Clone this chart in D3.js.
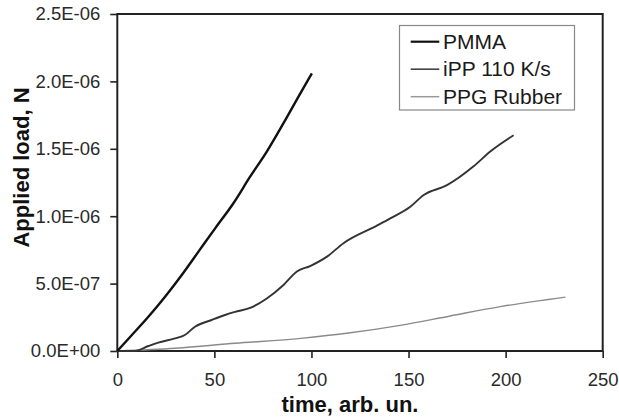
<!DOCTYPE html>
<html>
<head>
<meta charset="utf-8">
<script src="https://cdn.jsdelivr.net/npm/d3@7"></script>
<style>
  html, body { margin: 0; padding: 0; background: #fff; }
  svg { display: block; font-family: "Liberation Sans", Arial, sans-serif; }
</style>
</head>
<body>
<svg id="chart" width="619" height="419"></svg>
<script>
// ---- data (time in arb. units, load in N) ----
const seriesNames = ["PMMA", "iPP 110 K/s", "PPG Rubber"];

const pmmaTime = [0, 7.4, 16, 24.6, 33.2, 41.8, 50.4, 59.8, 68.4, 77, 85.6, 94.2, 100.2];
const pmmaLoad = [0, 0.117e-6, 0.254e-6, 0.403e-6, 0.564e-6, 0.737e-6, 0.91e-6, 1.096e-6, 1.293e-6, 1.479e-6, 1.69e-6, 1.91e-6, 2.06e-6];

const ippTime = [0, 9.1, 16, 21.1, 29.7, 34.8, 40, 48.6, 55.5, 60.6, 68.4, 77, 85.6, 92.5, 99.3, 108, 116.5, 133.7, 140.6, 150.9, 157.8, 169.8, 183.5, 192.1, 204.1];
const ippLoad = [0, 0, 0.037e-6, 0.062e-6, 0.094e-6, 0.119e-6, 0.18e-6, 0.23e-6, 0.267e-6, 0.29e-6, 0.32e-6, 0.39e-6, 0.49e-6, 0.59e-6, 0.63e-6, 0.70e-6, 0.80e-6, 0.93e-6, 0.984e-6, 1.07e-6, 1.157e-6, 1.23e-6, 1.37e-6, 1.48e-6, 1.60e-6];

const rubberTime = [0, 30, 60.7, 94.5, 120, 145.7, 171.5, 197.3, 230.8];
const rubberLoad = [0, 0.02e-6, 0.057e-6, 0.094e-6, 0.135e-6, 0.19e-6, 0.26e-6, 0.329e-6, 0.40e-6];

const xTicks = [0, 50, 100, 150, 200, 250];
const yTicks = [0, 0.5e-6, 1.0e-6, 1.5e-6, 2.0e-6, 2.5e-6];
const yTickLabels = ["0.0E+00", "5.0E-07", "1.0E-06", "1.5E-06", "2.0E-06", "2.5E-06"];

const xTitle = "time, arb. un.";
const yTitle = "Applied load, N";

// ---- layout ----
const L = 117.3, R = 602.7, T = 14, B = 351;
const svg = d3.select("#chart");

const x = d3.scaleLinear().domain([0, 250]).range([L, R]);
const y = d3.scaleLinear().domain([0, 2.5e-6]).range([B, T]);

// axes
const xAxis = svg.append("g")
  .attr("transform", `translate(0,${B})`)
  .call(d3.axisBottom(x).tickValues(xTicks).tickSize(7).tickPadding(15).tickFormat(d3.format("d")));
const yAxis = svg.append("g")
  .attr("transform", `translate(${L},0)`)
  .call(d3.axisLeft(y).tickValues(yTicks).tickSize(7).tickPadding(10)
        .tickFormat((d, i) => yTickLabels[i]));

[xAxis, yAxis].forEach(g => {
  g.select(".domain").remove();
  g.selectAll(".tick line").attr("stroke", "#222").attr("stroke-width", 1.6);
  g.selectAll(".tick text").attr("fill", "#2a2a2a")
    .style("font-size", "18.5px").style("font-family", "'Liberation Sans', Arial, sans-serif");
});

// frame
svg.append("rect")
  .attr("x", L).attr("y", T).attr("width", R - L).attr("height", B - T)
  .attr("fill", "none").attr("stroke", "#222").attr("stroke-width", 2);

// lines
const series = [
  { t: pmmaTime, v: pmmaLoad, color: "#111", w: 2.4 },
  { t: ippTime, v: ippLoad, color: "#333", w: 1.9 },
  { t: rubberTime, v: rubberLoad, color: "#8a8a8a", w: 1.4 }
];
const line = d3.line().x(d => x(d[0])).y(d => y(d[1])).curve(d3.curveMonotoneX);
series.slice().reverse().forEach(s => {
  svg.append("path")
    .datum(s.t.map((t, i) => [t, s.v[i]]))
    .attr("d", line)
    .attr("fill", "none")
    .attr("stroke", s.color)
    .attr("stroke-width", s.w)
    .attr("stroke-linejoin", "round");
});

// axis titles
svg.append("text")
  .attr("x", 350).attr("y", 412)
  .attr("text-anchor", "middle")
  .style("font-size", "22px").style("font-weight", "bold")
  .attr("fill", "#111")
  .text(xTitle);
svg.append("text")
  .attr("transform", "translate(28.5,167.5) rotate(-90)")
  .attr("text-anchor", "middle")
  .style("font-size", "22px").style("font-weight", "bold")
  .attr("fill", "#111")
  .text(yTitle);

// legend
const lg = svg.append("g");
lg.append("rect")
  .attr("x", 399.5).attr("y", 25.5).attr("width", 175).attr("height", 84.5)
  .attr("fill", "#fff").attr("stroke", "#888").attr("stroke-width", 1.2);
const legendColors = ["#111", "#444", "#999"];
const legendWidths = [2.2, 1.6, 1.5];
seriesNames.forEach((name, i) => {
  const cy = 41.7 + i * 27.5;
  lg.append("line")
    .attr("x1", 410.7).attr("x2", 439.3).attr("y1", cy).attr("y2", cy)
    .attr("stroke", legendColors[i]).attr("stroke-width", legendWidths[i]);
  lg.append("text")
    .attr("x", 443).attr("y", cy + 7)
    .style("font-size", "21px")
    .attr("fill", "#1a1a1a")
    .text(name);
});
</script>
</body>
</html>
